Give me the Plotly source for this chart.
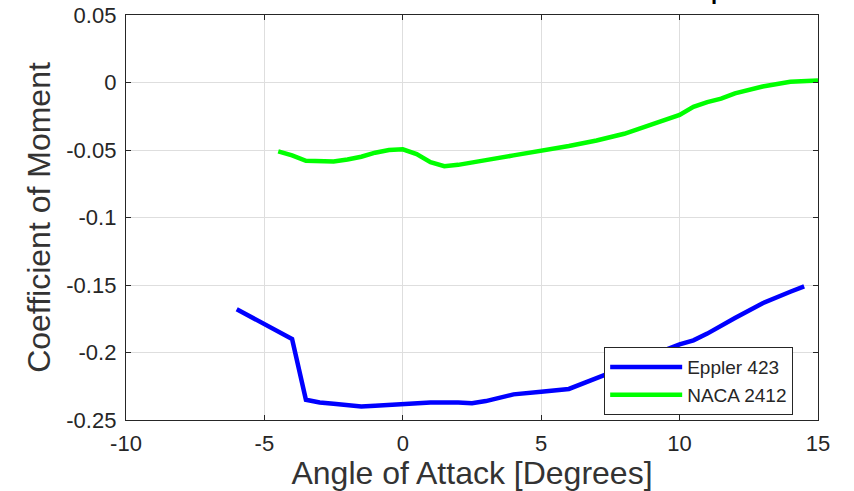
import plotly.graph_objects as go

# ---- data ----
eppler_alpha = [-6, -4, -3.5, -3, -2.5, -2, -1.5, -1, 0, 1, 2, 2.5, 3, 4, 5, 6, 7, 8, 9, 10, 10.5, 11, 12, 13, 14, 14.5]
eppler_cm = [-0.168, -0.190, -0.235, -0.237, -0.238, -0.239, -0.240, -0.2395, -0.238, -0.237, -0.237, -0.2375, -0.236,
             -0.231, -0.229, -0.227, -0.219, -0.211, -0.202, -0.194, -0.191, -0.186, -0.1745, -0.1635, -0.155, -0.151]

naca_alpha = [-4.5, -4, -3.5, -3, -2.5, -2, -1.5, -1, -0.5, 0, 0.5, 1, 1.5, 2, 2.5, 3, 4, 5, 6, 7, 8, 9, 10, 10.5, 11,
              11.5, 12, 13, 14, 15]
naca_cm = [-0.051, -0.054, -0.058, -0.0585, -0.0585, -0.057, -0.055, -0.052, -0.050, -0.0495, -0.053, -0.059, -0.062,
           -0.061, -0.059, -0.0575, -0.054, -0.0507, -0.047, -0.043, -0.038, -0.031, -0.024, -0.018, -0.0145, -0.012,
           -0.008, -0.003, 0.0005, 0.0015]

x_ticks = [-10, -5, 0, 5, 10, 15]
x_tick_labels = ["-10", "-5", "0", "5", "10", "15"]
y_ticks = [-0.25, -0.2, -0.15, -0.1, -0.05, 0, 0.05]
y_tick_labels = ["-0.25", "-0.2", "-0.15", "-0.1", "-0.05", "0", "0.05"]

series_names = ["Eppler 423", "NACA 2412"]
title_text = "Coefficient of Moment Comparison"

FONT = "Arial, Liberation Sans, Helvetica, sans-serif"
AX = "#262626"

fig = go.Figure()
fig.add_trace(go.Scatter(x=eppler_alpha, y=eppler_cm, mode="lines", name=series_names[0],
                         line=dict(color="#0000FF", width=4.5)))
fig.add_trace(go.Scatter(x=naca_alpha, y=naca_cm, mode="lines", name=series_names[1],
                         line=dict(color="#00FF00", width=4.5)))

axis_common = dict(showline=True, linecolor=AX, linewidth=1.3, mirror="ticks", ticks="inside", ticklen=5,
                   tickcolor=AX, tickwidth=1, showgrid=True, gridcolor="#dedede", gridwidth=1, zeroline=False,
                   automargin=False, tickfont=dict(family=FONT, size=22, color=AX))

fig.update_xaxes(range=[-10, 15], tickvals=x_ticks, ticktext=x_tick_labels, ticklabelstandoff=3,
                 title=dict(text="Angle of Attack [Degrees]", font=dict(family=FONT, size=32, color="#333333"),
                            standoff=1),
                 **axis_common)
fig.update_yaxes(range=[-0.25, 0.05], tickvals=y_ticks, ticktext=y_tick_labels, ticklabelstandoff=4,
                 title=dict(text="Coefficient of Moment", font=dict(family=FONT, size=32, color="#333333"),
                            standoff=6),
                 **axis_common)

fig.add_annotation(text="<b>" + title_text + "</b>", xref="paper", yref="paper", x=0.9624, y=1.0217,
                   xanchor="right", yanchor="bottom", showarrow=False,
                   font=dict(family=FONT, size=22, color="#000000"))

fig.update_layout(
    width=854, height=491,
    margin=dict(l=126, r=36, t=15, b=71),
    paper_bgcolor="white", plot_bgcolor="white",
    showlegend=True,
    legend=dict(x=0.691, y=0.180, xanchor="left", yanchor="top", bgcolor="white", bordercolor=AX,
                borderwidth=1, font=dict(family=FONT, size=19, color=AX), itemwidth=72,
                tracegroupgap=0),
)

fig.write_html("out.html")
